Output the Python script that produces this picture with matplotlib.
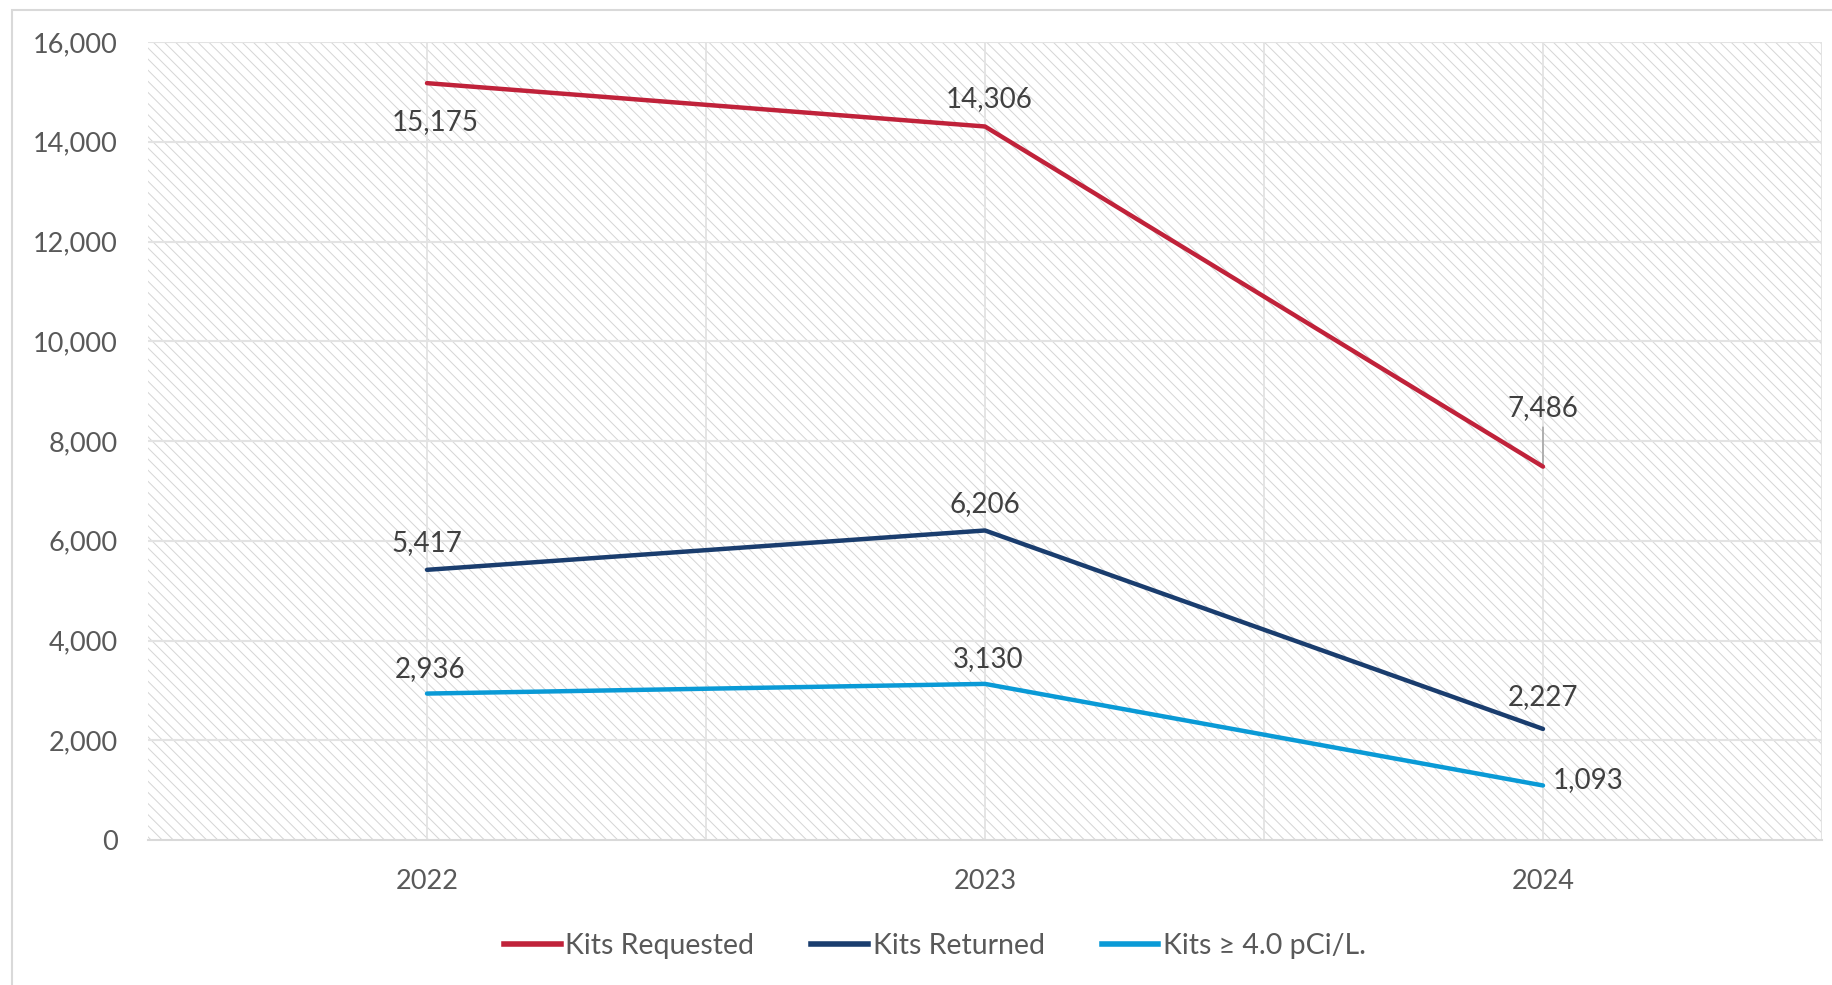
import matplotlib
matplotlib.use("Agg")
import matplotlib.pyplot as plt
from matplotlib.patches import Rectangle
from matplotlib.lines import Line2D

plt.rcParams['font.family'] = ['Lato', 'DejaVu Sans']
plt.rcParams['hatch.color'] = '#D5D5D5'
plt.rcParams['hatch.linewidth'] = 0.7

years = ['2022', '2023', '2024']
kits_requested = [15175, 14306, 7486]
kits_returned = [5417, 6206, 2227]
kits_high = [2936, 3130, 1093]
series_names = ['Kits Requested', 'Kits Returned', 'Kits \u2265 4.0 pCi/L.']
colors = ['#C0223A', '#1A3D6E', '#0A9AD6']
yticks = [0, 2000, 4000, 6000, 8000, 10000, 12000, 14000, 16000]

W, H = 1832, 985
fig = plt.figure(figsize=(W / 100, H / 100), dpi=100)
ax = fig.add_axes([148 / W, 1 - 840 / H, (1822 - 148) / W, (840 - 42) / H])

# figure border
fig.patches.append(Rectangle((12 / W, -0.05), 1.2, 1 - 10 / H + 0.05,
                             transform=fig.transFigure, fill=False,
                             edgecolor='#D9D9D9', linewidth=1.5))

ax.set_facecolor('white')
ax.add_patch(Rectangle((0, 0), 1, 1, transform=ax.transAxes, facecolor='white',
                       edgecolor='#D5D5D5', linewidth=0, hatch='\\\\\\', zorder=0))

x = list(range(len(years)))
ax.set_xlim(-0.5, 2.5)
ax.set_ylim(0, 16000)

for v in [0, 0.5, 1, 1.5, 2]:
    ax.axvline(v, color='#E3E3E3', lw=1.3, zorder=1)
for yt in yticks[1:]:
    ax.axhline(yt, color='#E3E3E3', lw=1.5, zorder=1)
ax.axvline(2.5, color='#E3E3E3', lw=1.5, zorder=1)

data = [kits_requested, kits_returned, kits_high]
for vals, c, name in zip(data, colors, series_names):
    ax.plot(x, vals, color=c, lw=3.2, solid_capstyle='round', zorder=3, label=name)

lab_kw = dict(fontsize=20, color='#404040', zorder=4)
# Kits Requested labels
ax.annotate(f'{kits_requested[0]:,}', (x[0], kits_requested[0]), xytext=(6, -28),
            textcoords='offset points', ha='center', va='center', **lab_kw)
ax.annotate(f'{kits_requested[1]:,}', (x[1], kits_requested[1]), xytext=(3, 20),
            textcoords='offset points', ha='center', va='center', **lab_kw)
ax.annotate(f'{kits_requested[2]:,}', (x[2], kits_requested[2]), xytext=(0, 42),
            textcoords='offset points', ha='center', va='center', **lab_kw)
ax.annotate('', (x[2], kits_requested[2]), xytext=(x[2], kits_requested[2] + 790),
            arrowprops=dict(arrowstyle='-', color='#A6A6A6', lw=1.2, shrinkA=0, shrinkB=0),
            zorder=2)
# Kits Returned labels
for i in range(3):
    ax.annotate(f'{kits_returned[i]:,}', (x[i], kits_returned[i]), xytext=(0, 19 if i < 2 else 23),
                textcoords='offset points', ha='center', va='center', **lab_kw)
# Kits high labels
for i in range(2):
    ax.annotate(f'{kits_high[i]:,}', (x[i], kits_high[i]), xytext=(2, 18),
                textcoords='offset points', ha='center', va='center', **lab_kw)
ax.annotate(f'{kits_high[2]:,}', (x[2], kits_high[2]), xytext=(7, 4),
            textcoords='offset points', ha='left', va='center', **lab_kw)

ax.set_xticks(x)
ax.set_xticklabels(years)
ax.set_yticks(yticks)
ax.set_yticklabels([f'{v:,}' for v in yticks])
ax.tick_params(axis='both', length=0, labelsize=19.5, labelcolor='#595959')
ax.tick_params(axis='x', pad=21)
ax.tick_params(axis='y', pad=22)

for s in ['top', 'right', 'left']:
    ax.spines[s].set_visible(False)
ax.spines['bottom'].set_color('#D9D9D9')
ax.spines['bottom'].set_linewidth(1.5)
ax.spines['bottom'].set_zorder(2)

handles = [Line2D([0], [0], color=c, lw=4) for c in colors]
leg = fig.legend(handles, series_names, loc='center', bbox_to_anchor=(935 / W, 1 - 946 / H),
                 ncol=3, frameon=False, fontsize=20.5, handlelength=2.0, handletextpad=0.15,
                 columnspacing=2.0, labelcolor='#595959')

fig.savefig('out.png', dpi=100)
